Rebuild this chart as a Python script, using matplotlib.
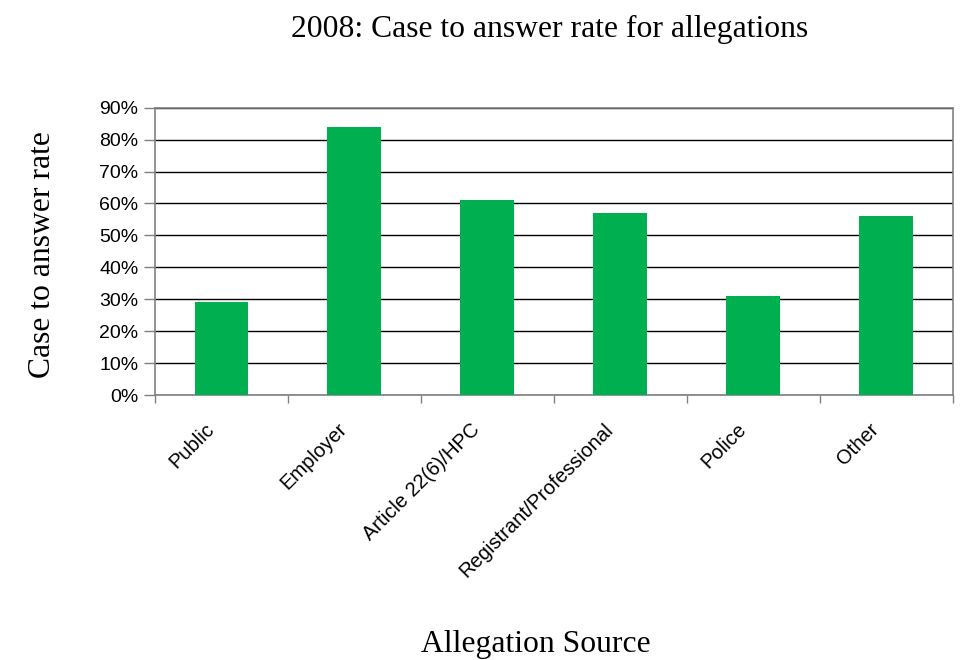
import numpy as np
import matplotlib.pyplot as plt
from matplotlib.ticker import PercentFormatter
from matplotlib.transforms import ScaledTranslation

# values
sources = ['Public', 'Employer', 'Article 22(6)/HPC', 'Registrant/Professional', 'Police', 'Other']
rates = [0.29, 0.84, 0.61, 0.57, 0.31, 0.56]

fig = plt.figure(figsize=(9.61, 6.6), dpi=100)
ax = fig.add_axes([0.1613, 0.4015, 0.83, 0.4353])

x = np.arange(len(sources))
ax.bar(x, rates, width=0.405, color='#00B050', zorder=3)

ax.set_xlim(-0.5, len(sources) - 0.5)
ax.set_ylim(0, 0.9)
ax.set_yticks(np.arange(0, 0.91, 0.1))
ax.yaxis.set_major_formatter(PercentFormatter(1.0, decimals=0))
ax.grid(axis='y', color='black', linewidth=1, zorder=1)

# category labels drawn as text below each bar, tick marks at the boundaries
ax.set_xticks(x, labels=[''] * len(sources))
shift = ScaledTranslation(-0.17, -0.245, fig.dpi_scale_trans)
for xi, name in zip(x, sources):
    ax.text(xi, 0, name, transform=ax.get_xaxis_transform() + shift,
            rotation=45, ha='right', va='top', rotation_mode='anchor',
            family='Liberation Sans', fontsize=14.5)
ax.set_xticks(np.arange(-0.5, len(sources)), minor=True)
ax.tick_params(axis='x', which='major', length=0)
ax.tick_params(axis='x', which='minor', length=6, color='#808080', width=1)
ax.tick_params(axis='y', length=8, color='#808080', width=1, pad=4)
for lab in ax.get_yticklabels():
    lab.set_family('Liberation Sans')
    lab.set_fontsize(14)

for s in ax.spines.values():
    s.set_color('#808080')
    s.set_linewidth(1.2)

fig.text(0.5715, 0.956, '2008: Case to answer rate for allegations',
         family='Liberation Serif', fontsize=22.8, ha='center', va='center')
fig.text(0.558, 0.024, 'Allegation Source',
         family='Liberation Serif', fontsize=22.8, ha='center', va='center')
fig.text(0.044, 0.615, 'Case to answer rate', rotation=90,
         family='Liberation Serif', fontsize=22.8, ha='center', va='center')

fig.savefig('out.png', dpi=100)
